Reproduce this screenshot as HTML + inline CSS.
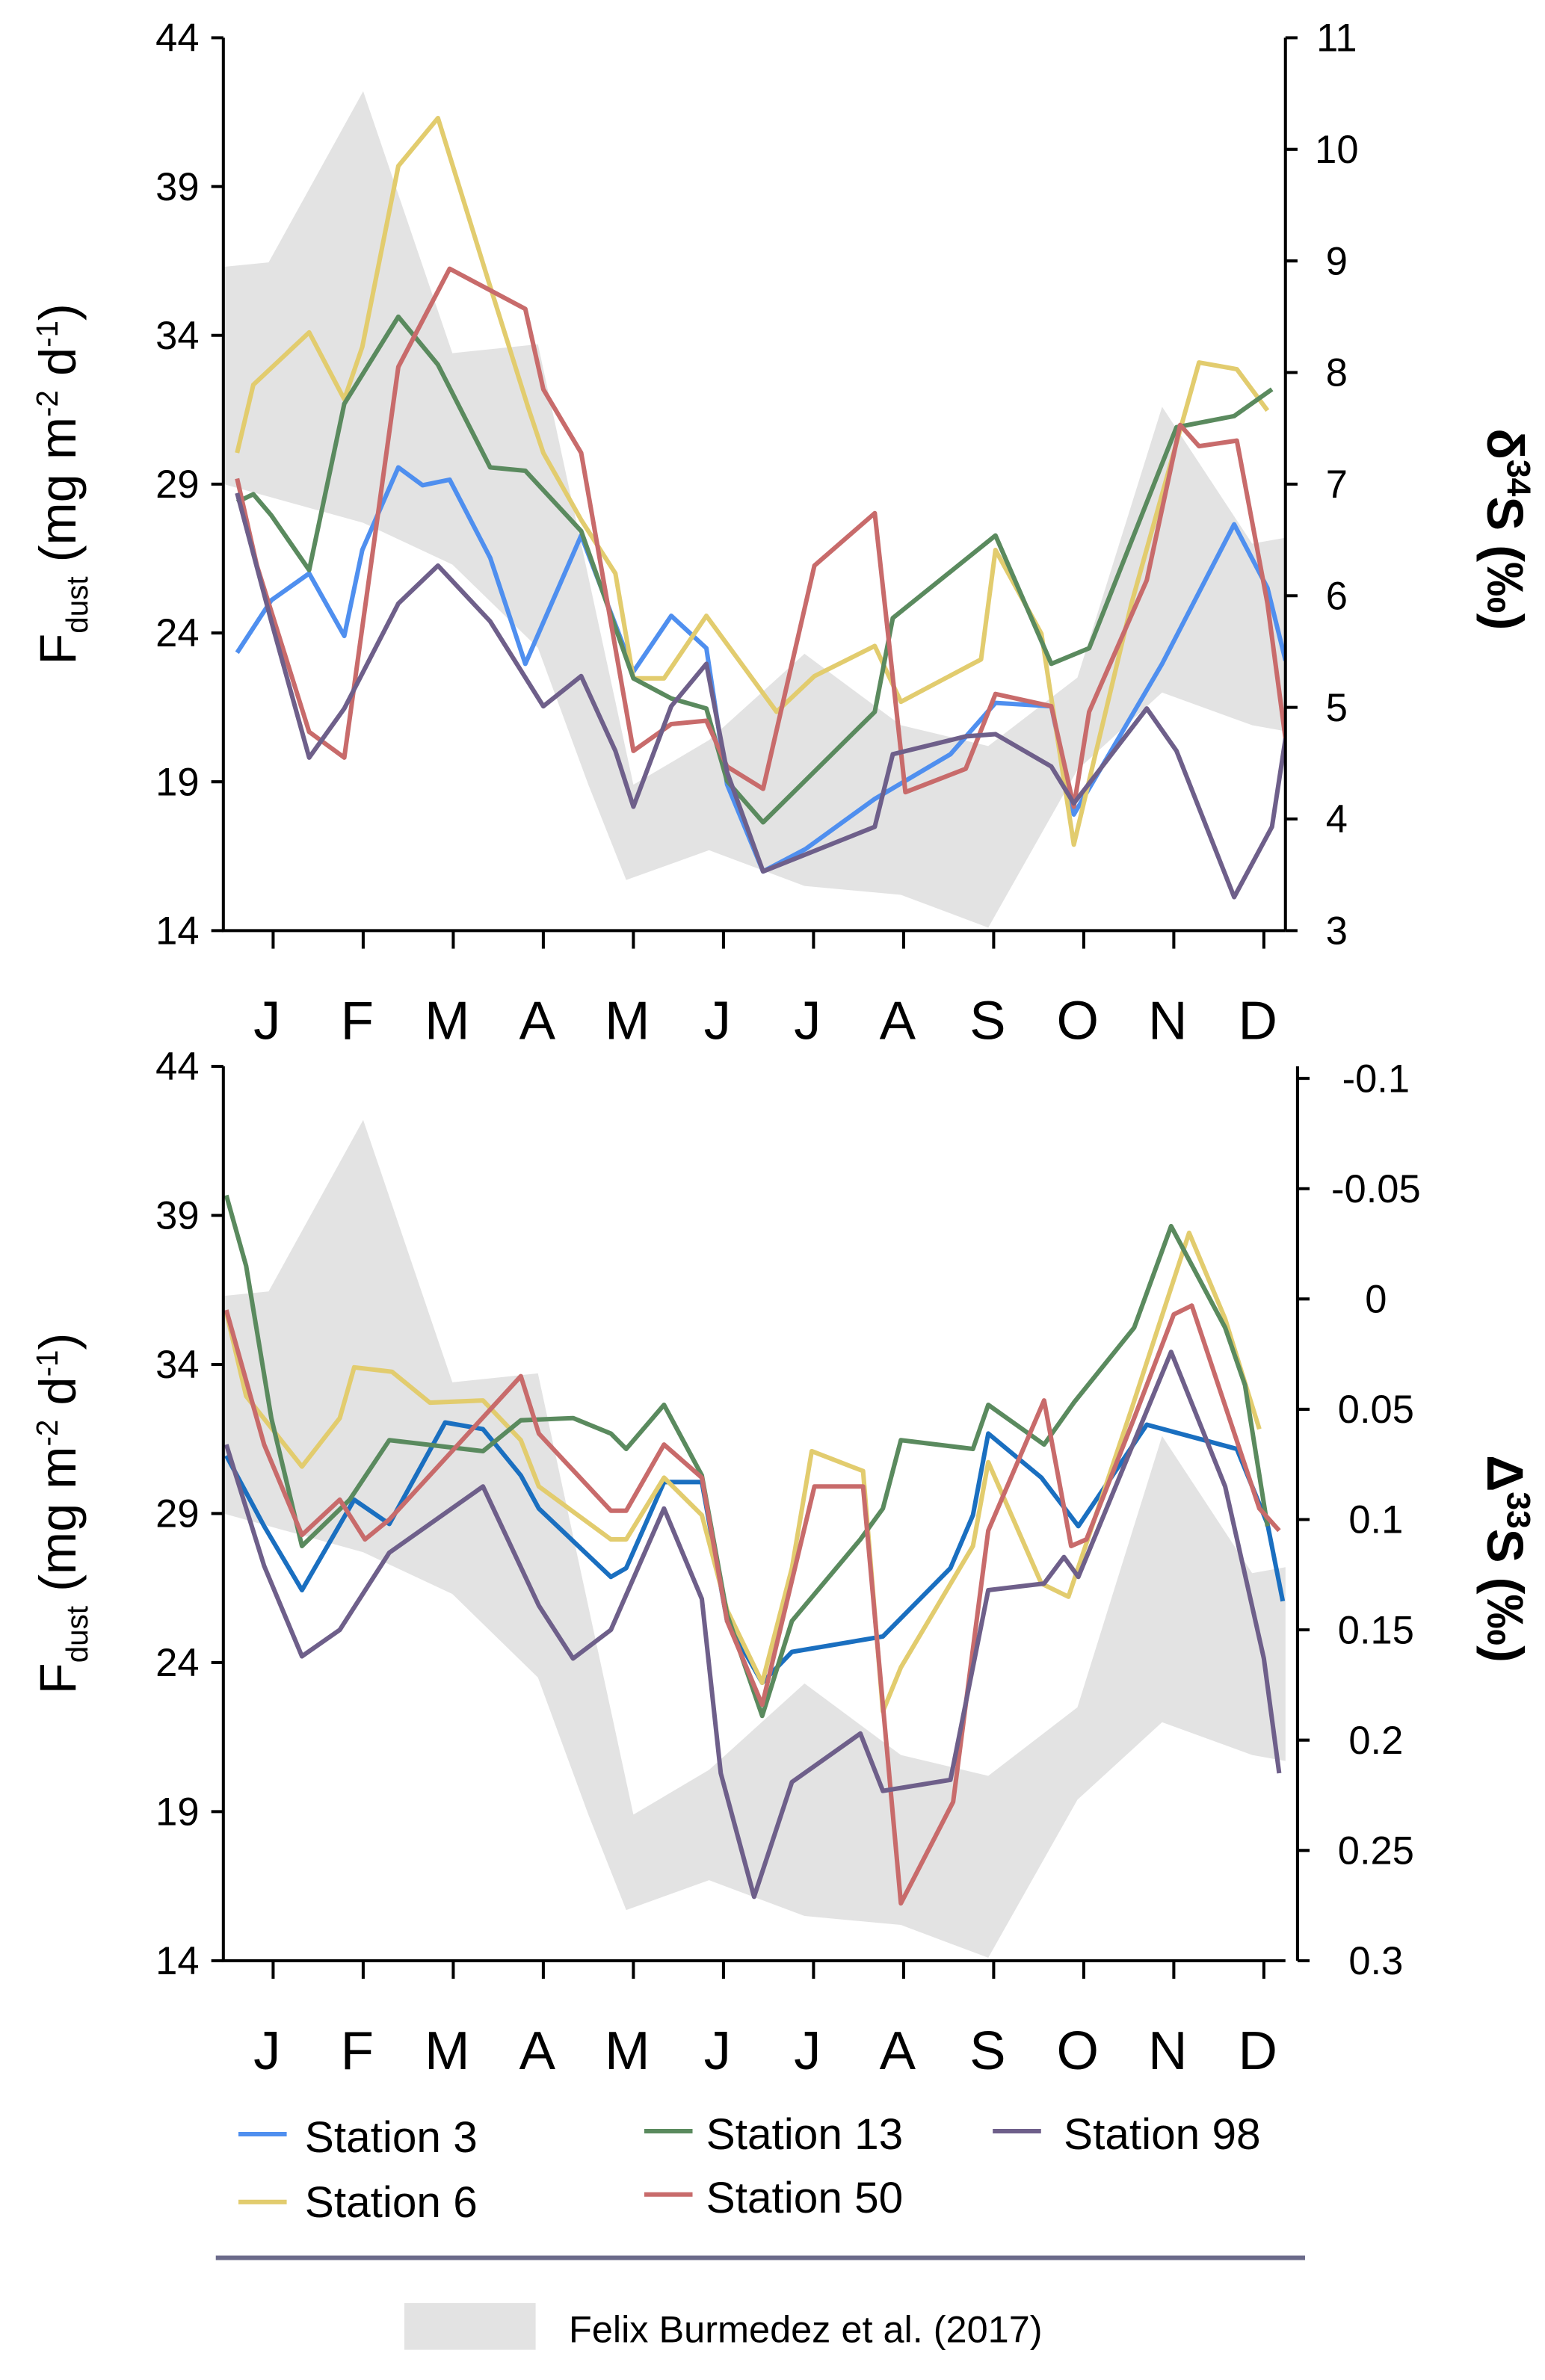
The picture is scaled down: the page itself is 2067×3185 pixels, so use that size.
<!DOCTYPE html>
<html><head><meta charset="utf-8"><style>
html,body{margin:0;padding:0;background:#fff}
svg{display:block;font-family:"Liberation Sans",sans-serif}
</style></head><body>
<svg id="chart" width="2067" height="3185" viewBox="0 0 1024 1578" xmlns="http://www.w3.org/2000/svg">
<g id="top"></g>
<g id="bot"></g>
<g id="legend">
 <line x1="158" y1="1415" x2="190" y2="1415" stroke="#4f8fef" stroke-width="3"/>
 <text x="202" y="1427" font-size="29">Station 3</text>
 <line x1="158" y1="1460" x2="190" y2="1460" stroke="#e2cc6e" stroke-width="3"/>
 <text x="202" y="1470" font-size="29">Station 6</text>
 <line x1="427" y1="1413" x2="459" y2="1413" stroke="#5a8a5e" stroke-width="3"/>
 <text x="468" y="1425" font-size="29">Station 13</text>
 <line x1="427" y1="1455" x2="459" y2="1455" stroke="#c86b6b" stroke-width="3"/>
 <text x="468" y="1467" font-size="29">Station 50</text>
 <line x1="658" y1="1413" x2="690" y2="1413" stroke="#6e5f8a" stroke-width="3"/>
 <text x="705" y="1425" font-size="29">Station 98</text>
 <line x1="143" y1="1497" x2="865" y2="1497" stroke="#6b6a8a" stroke-width="3"/>
 <rect x="268" y="1527" width="87" height="31" fill="#e3e3e3"/>
 <text x="377" y="1553" font-size="25">Felix Burmedez et al. (2017)</text>
</g>
</svg>
<script>
const months=["J","F","M","A","M","J","J","A","S","O","N","D"];
const leftTicks=[44,39,34,29,24,19,14];
const topRightTicks=[11,10,9,8,7,6,5,4,3];
const botRightTicks=[-0.1,-0.05,0,0.05,0.1,0.15,0.2,0.25,0.3];
const botRightLabels=["-0.1","-0.05","0","0.05","0.1","0.15","0.2","0.25","0.3"];
const bandX=[0.45,0.95,2,2.99,3.94,5,5.84,6.9,7.97,8.94,9.93,10.87,11.87,12.24];
const bandUpper=[36.3,36.45,42.2,33.4,33.7,18.9,20.4,23.3,20.9,20.2,22.5,31.6,27.0,27.2];
const bandLowerX=[0.45,2,2.99,3.94,4.5,4.92,5.84,6.9,7.97,8.94,9.93,10.87,11.87,12.24];
const bandLower=[29.0,27.7,26.3,23.5,18.9,15.7,16.7,15.5,15.2,14.1,19.4,22.0,20.9,20.7];
const topS3=[[0.60,5.49],[0.98,5.96],[1.40,6.20],[1.79,5.64],[1.99,6.41],[2.39,7.15],[2.66,6.99],[2.96,7.04],[3.41,6.34],[3.80,5.39],[4.42,6.54],[5.00,5.32],[5.42,5.82],[5.81,5.53],[6.04,4.31],[6.44,3.53],[6.91,3.73],[7.68,4.18],[8.52,4.58],[9.02,5.04],[9.64,5.01],[9.89,4.04],[10.87,5.39],[11.67,6.64],[12.04,6.07],[12.24,5.42]];
const topS6=[[0.60,7.28],[0.78,7.89],[1.40,8.36],[1.79,7.76],[1.99,8.23],[2.39,9.85],[2.83,10.28],[3.41,8.77],[3.83,7.69],[4.00,7.28],[4.42,6.68],[4.80,6.20],[5.00,5.26],[5.34,5.26],[5.81,5.82],[6.59,4.96],[7.01,5.28],[7.68,5.55],[7.97,5.05],[8.86,5.43],[9.02,6.41],[9.53,5.66],[9.89,3.77],[10.53,5.93],[11.28,8.09],[11.70,8.03],[12.04,7.66]];
const topS13=[[0.60,6.84],[0.78,6.91],[0.98,6.72],[1.40,6.23],[1.79,7.72],[2.39,8.50],[2.83,8.07],[3.41,7.15],[3.80,7.12],[4.42,6.58],[5.00,5.26],[5.42,5.08],[5.81,4.99],[6.04,4.34],[6.44,3.97],[7.68,4.96],[7.88,5.80],[9.02,6.54],[9.64,5.39],[10.06,5.53],[11.03,7.51],[11.67,7.61],[12.09,7.85]];
const topS50=[[0.60,7.05],[0.82,6.27],[1.40,4.78],[1.79,4.55],[2.39,8.05],[2.96,8.93],[3.80,8.57],[4.00,7.85],[4.42,7.28],[5.00,4.61],[5.42,4.85],[5.81,4.88],[6.04,4.47],[6.44,4.27],[7.01,6.27],[7.68,6.74],[8.02,4.24],[8.69,4.45],[9.02,5.12],[9.64,5.01],[9.89,4.11],[10.06,4.96],[10.70,6.14],[11.07,7.53],[11.28,7.34],[11.70,7.39],[12.04,5.93],[12.24,4.72]];
const topS98=[[0.60,6.92],[0.98,5.77],[1.40,4.55],[1.79,4.99],[2.39,5.93],[2.83,6.27],[3.41,5.77],[4.00,5.01],[4.42,5.28],[4.80,4.61],[5.00,4.11],[5.42,5.01],[5.81,5.39],[6.04,4.42],[6.44,3.53],[7.68,3.93],[7.88,4.58],[8.69,4.74],[9.02,4.76],[9.64,4.47],[9.89,4.14],[10.70,4.99],[11.03,4.61],[11.67,3.30],[12.09,3.93],[12.24,4.72]];
const botS3=[[0.48,0.071],[0.90,0.103],[1.32,0.132],[1.90,0.091],[2.29,0.102],[2.91,0.056],[3.33,0.059],[3.75,0.080],[3.95,0.095],[4.75,0.126],[4.92,0.122],[5.34,0.083],[5.76,0.083],[6.04,0.146],[6.43,0.174],[6.76,0.160],[7.77,0.153],[8.52,0.122],[8.77,0.098],[8.94,0.061],[9.53,0.081],[9.94,0.103],[10.70,0.057],[11.70,0.068],[12.04,0.102],[12.21,0.137]];
const botS6=[[0.48,0.006],[0.70,0.044],[1.32,0.076],[1.74,0.054],[1.90,0.031],[2.32,0.033],[2.74,0.047],[3.33,0.046],[3.75,0.064],[3.95,0.085],[4.75,0.109],[4.92,0.109],[5.34,0.081],[5.76,0.098],[6.04,0.141],[6.43,0.174],[6.76,0.122],[6.98,0.069],[7.55,0.078],[7.77,0.187],[7.97,0.167],[8.77,0.112],[8.94,0.074],[9.53,0.129],[9.83,0.135],[10.53,0.050],[11.17,-0.030],[11.57,0.009],[11.95,0.059]];
const botS13=[[0.48,-0.047],[0.70,-0.015],[0.98,0.054],[1.32,0.112],[1.85,0.091],[2.29,0.064],[3.33,0.069],[3.75,0.055],[4.33,0.054],[4.75,0.061],[4.92,0.068],[5.34,0.048],[5.76,0.080],[6.04,0.143],[6.43,0.189],[6.76,0.146],[7.52,0.109],[7.77,0.095],[7.97,0.064],[8.77,0.068],[8.94,0.048],[9.56,0.066],[9.89,0.047],[10.56,0.013],[10.97,-0.033],[11.57,0.013],[11.79,0.039],[12.04,0.103]];
const botS50=[[0.48,0.005],[0.90,0.066],[1.32,0.107],[1.74,0.091],[2.02,0.109],[2.29,0.100],[3.75,0.035],[3.95,0.061],[4.75,0.096],[4.92,0.096],[5.34,0.066],[5.76,0.081],[6.04,0.146],[6.43,0.184],[7.01,0.085],[7.55,0.085],[7.97,0.274],[8.55,0.228],[8.94,0.105],[9.56,0.046],[9.86,0.112],[10.03,0.109],[10.56,0.054],[11.00,0.007],[11.20,0.003],[11.95,0.095],[12.17,0.105]];
const botS98=[[0.48,0.066],[0.90,0.121],[1.32,0.162],[1.74,0.150],[2.29,0.115],[3.33,0.085],[3.95,0.139],[4.33,0.163],[4.75,0.150],[5.34,0.095],[5.76,0.136],[5.97,0.215],[6.34,0.271],[6.76,0.219],[7.52,0.197],[7.77,0.223],[8.52,0.218],[8.94,0.132],[9.56,0.129],[9.78,0.117],[9.94,0.126],[10.97,0.024],[11.57,0.085],[12.00,0.163],[12.17,0.215]];

const NS="http://www.w3.org/2000/svg";
function mk(parent,tag,attrs,txt){const e=document.createElementNS(NS,tag);for(const k in attrs)e.setAttribute(k,attrs[k]);if(txt!==undefined)e.textContent=txt;parent.appendChild(e);return e;}
const X0=148,X1=852;
function xS(m){return 181+(m-1)*59.7;}

function panel(g,y0,y1,rDom,rTicks,rLabels,series,rightTitle,rightSup,rAxisX,prefix,rLabOff){
  const yL=v=>y1-(v-14)/30*(y1-y0);
  const yR=v=>rDom.a + (v-rDom.v0)/(rDom.v1-rDom.v0)*(rDom.b-rDom.a);
  const clip=mk(g,'clipPath',{id:'clip'+prefix});
  mk(clip,'rect',{x:X0,y:y0,width:X1-X0,height:y1-y0});
  let pts=bandX.map((m,i)=>xS(m)+','+yL(bandUpper[i]));
  for(let i=bandLowerX.length-1;i>=0;i--)pts.push(xS(bandLowerX[i])+','+yL(bandLower[i]));
  const band=mk(g,'polygon',{points:pts.join(' '),fill:'#e3e3e3'});
  
  
  series.forEach(s=>{
    const p=mk(g,'polyline',{points:s.d.map(q=>xS(q[0])+','+yR(q[1])).join(' '),fill:'none',stroke:s.c,'stroke-width':3,'stroke-linejoin':'round','clip-path':'url(#clip'+prefix+')'});
    
    
  });
  const ax=mk(g,'path',{d:`M${X0},${y0}V${y1}H${X1}`,fill:'none',stroke:'#000','stroke-width':2});
  
  
  const rax=mk(g,'line',{x1:rAxisX,y1:y0,x2:rAxisX,y2:y1,stroke:'#000','stroke-width':2});
  
  
  leftTicks.forEach(v=>{
    mk(g,'line',{x1:X0-8,x2:X0,y1:yL(v),y2:yL(v),stroke:'#000','stroke-width':2});
    const t=mk(g,'text',{x:X0-16,y:yL(v)+9,'font-size':26,'text-anchor':'end'},String(v));
    
    
  });
  rTicks.forEach((v,i)=>{
    mk(g,'line',{x1:rAxisX,x2:rAxisX+8,y1:yR(v),y2:yR(v),stroke:'#000','stroke-width':2});
    const t=mk(g,'text',{x:rAxisX+rLabOff,y:yR(v)+9,'font-size':26,'text-anchor':'middle'},rLabels[i]);
    
    
  });
  months.forEach((m,i)=>{
    mk(g,'line',{x1:xS(i+1),x2:xS(i+1),y1:y1,y2:y1+12,stroke:'#000','stroke-width':2});
    const t=mk(g,'text',{x:xS(i+1)-4,y:y1+72,'font-size':36,'text-anchor':'middle'},m);
    
    
  });
  const cy=(y0+y1)/2;
  const lt=mk(g,'text',{transform:`translate(50,${cy}) rotate(-90)`,'font-size':34,'text-anchor':'middle'});
  
  
  mk(lt,'tspan',{},'F');
  mk(lt,'tspan',{'font-size':20,dy:8},'dust');
  mk(lt,'tspan',{dy:-8},' (mg m');
  mk(lt,'tspan',{'font-size':20,dy:-12},'-2');
  mk(lt,'tspan',{dy:12},' d');
  mk(lt,'tspan',{'font-size':20,dy:-12},'-1');
  mk(lt,'tspan',{dy:12},')');
  const rt=mk(g,'text',{transform:`translate(986,${cy+30}) rotate(90)`,'font-size':34,'font-weight':'bold','text-anchor':'middle'});
  
  
  mk(rt,'tspan',{},rightTitle[0]);
  mk(rt,'tspan',{'font-size':22,dy:-13},rightSup);
  mk(rt,'tspan',{dy:13},rightTitle[1]);
}
const C={s3:'#4f8fef',s6:'#e2cc6e',s13:'#5a8a5e',s50:'#c86b6b',s98:'#6e5f8a',s3b:'#1a6fc0'};
panel(document.getElementById('top'),25,617,{v0:3,v1:11,a:617,b:25},topRightTicks,topRightTicks.map(String),
 [{d:topS3,c:C.s3,n:'top-station-3-line'},{d:topS6,c:C.s6,n:'top-station-6-line'},{d:topS13,c:C.s13,n:'top-station-13-line'},{d:topS50,c:C.s50,n:'top-station-50-line'},{d:topS98,c:C.s98,n:'top-station-98-line'}],
 ['δ','S (‰)'],'34',852,'t',34);
panel(document.getElementById('bot'),707,1300,{v0:-0.1,v1:0.3,a:715,b:1300},botRightTicks,botRightLabels,
 [{d:botS3,c:C.s3b,n:'bottom-station-3-line'},{d:botS6,c:C.s6,n:'bottom-station-6-line'},{d:botS13,c:C.s13,n:'bottom-station-13-line'},{d:botS50,c:C.s50,n:'bottom-station-50-line'},{d:botS98,c:C.s98,n:'bottom-station-98-line'}],
 ['Δ','S (‰)'],'33',860,'b',52);
</script>
</body></html>
